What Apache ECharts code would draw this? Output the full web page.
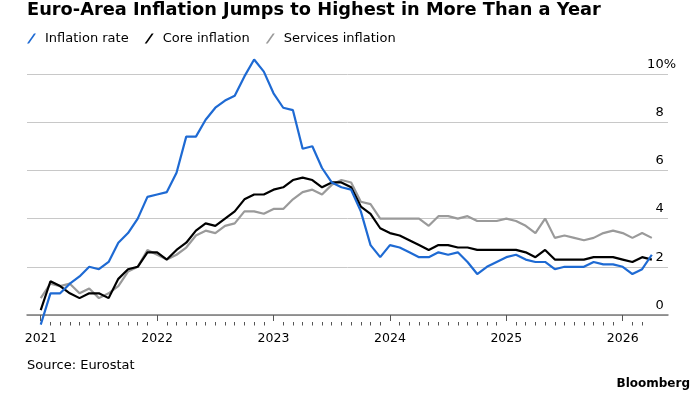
<!DOCTYPE html>
<html><head><meta charset="utf-8">
<script src="https://cdn.jsdelivr.net/npm/echarts@6/dist/echarts.min.js"></script>
<style>html,body{margin:0;padding:0;background:#fff}#c{width:700px;height:394px}</style>
</head><body><div id="c"></div>
<script>
// First observation: December 2020 (plotted at month end)
const firstYear = 2020, firstMonth = 12;
const inflation = [-0.4,
  0.9, 0.9, 1.3, 1.6, 2.0, 1.9, 2.2, 3.0, 3.4, 4.0, 4.9, 5.0,
  5.1, 5.9, 7.4, 7.4, 8.1, 8.6, 8.9, 9.1, 9.9, 10.6, 10.1, 9.2,
  8.6, 8.5, 6.9, 7.0, 6.1, 5.5, 5.3, 5.2, 4.3, 2.9, 2.4, 2.9,
  2.8, 2.6, 2.4, 2.4, 2.6, 2.5, 2.6, 2.2, 1.7, 2.0, 2.2, 2.4,
  2.5, 2.3, 2.2, 2.2, 1.9, 2.0, 2.0, 2.0, 2.2, 2.1, 2.1, 2.0,
  1.7, 1.9, 2.5];
const core = [0.2,
  1.4, 1.2, 0.9, 0.7, 0.9, 0.9, 0.7, 1.5, 1.9, 2.0, 2.6, 2.6,
  2.3, 2.7, 3.0, 3.5, 3.8, 3.7, 4.0, 4.3, 4.8, 5.0, 5.0, 5.2,
  5.3, 5.6, 5.7, 5.6, 5.3, 5.5, 5.5, 5.3, 4.5, 4.2, 3.6, 3.4,
  3.3, 3.1, 2.9, 2.7, 2.9, 2.9, 2.8, 2.8, 2.7, 2.7, 2.7, 2.7,
  2.7, 2.6, 2.4, 2.7, 2.3, 2.3, 2.3, 2.3, 2.4, 2.4, 2.4, 2.3,
  2.2, 2.4, 2.3];
const services = [0.7,
  1.3, 1.2, 1.3, 0.9, 1.1, 0.7, 0.9, 1.2, 1.8, 2.0, 2.7, 2.5,
  2.3, 2.5, 2.8, 3.3, 3.5, 3.4, 3.7, 3.8, 4.3, 4.3, 4.2, 4.4,
  4.4, 4.8, 5.1, 5.2, 5.0, 5.4, 5.6, 5.5, 4.7, 4.6, 4.0, 4.0,
  4.0, 4.0, 4.0, 3.7, 4.1, 4.1, 4.0, 4.1, 3.9, 3.9, 3.9, 4.0,
  3.9, 3.7, 3.4, 4.0, 3.2, 3.3, 3.2, 3.1, 3.2, 3.4, 3.5, 3.4,
  3.2, 3.4, 3.2];
const yearLabels = [2021, 2022, 2023, 2024, 2025, 2026];
const yTicks = [0, 2, 4, 6, 8, 10];
const seriesNames = ['Inflation rate', 'Core inflation', 'Services inflation'];

// x position of an observation: year + month/12 (month end)
const xOf = i => firstYear + (firstMonth + i) / 12;
const toPairs = arr => arr.map((v, i) => [xOf(i), v]);
const minorTicks = [];
for (let i = 1; i < inflation.length - 1; i++) {
  const x = xOf(i);
  if (Math.abs(x - Math.round(x)) > 1e-6) minorTicks.push(x);
}
const X_MIN = 2020.882, X_MAX = 2026.389;
const FONT = 'DejaVu Sans';

const chart = echarts.init(document.getElementById('c'), null, {renderer: 'canvas'});
chart.setOption({
  animation: false,
  backgroundColor: '#fff',
  title: {
    text: 'Euro-Area Inflation Jumps to Highest in More Than a Year',
    left: 27, top: 1, padding: 0,
    textStyle: {fontFamily: FONT, fontWeight: 'bold', fontSize: 17.8, color: '#000'}
  },
  legend: {
    left: 27, top: 32, padding: 0, itemWidth: 9, itemHeight: 10, itemGap: 16,
    icon: 'path://M0,10L7,0L9,0L2,10Z',
    data: seriesNames,
    textStyle: {fontFamily: FONT, fontSize: 13, color: '#000', padding: [0, 0, 0, 4]}
  },
  grid: {left: 27, right: 32, top: 74, bottom: 79, outerBoundsMode: 'none', containLabel: false},
  xAxis: [
    {type: 'value', min: X_MIN, max: X_MAX, position: 'bottom',
     axisLine: {show: true, onZero: false, lineStyle: {color: '#7a7a7a', width: 1.5}},
     axisTick: {show: false}, axisLabel: {show: false}, splitLine: {show: false}},
    {type: 'value', min: X_MIN, max: X_MAX, position: 'bottom', offset: 7,
     axisLine: {show: false},
     axisTick: {show: true, customValues: yearLabels, length: 6, lineStyle: {color: '#555', width: 1}},
     axisLabel: {show: true, customValues: yearLabels, margin: 10, fontFamily: FONT, fontSize: 12.5, color: '#000',
                 formatter: v => String(Math.round(v))},
     splitLine: {show: false}},
    {type: 'value', min: X_MIN, max: X_MAX, position: 'bottom', offset: 7,
     axisLine: {show: false},
     axisTick: {show: true, customValues: minorTicks, length: 3.5, lineStyle: {color: '#555', width: 1}},
     axisLabel: {show: false}, splitLine: {show: false}}
  ],
  yAxis: {
    type: 'value', position: 'right', min: yTicks[0], max: yTicks[yTicks.length - 1], interval: 2,
    axisLine: {show: false}, axisTick: {show: false},
    splitLine: {show: true, lineStyle: {color: '#c8c8c8', width: 1}},
    axisLabel: {
      inside: true, margin: -8, verticalAlign: 'bottom', padding: [0, 0, 3, 0],
      fontFamily: FONT, fontSize: 13, color: '#000',
      formatter: v => v === 10 ? '10%' : v + '{h|%}',
      rich: {h: {color: 'rgba(0,0,0,0)', fontFamily: FONT, fontSize: 13}}
    }
  },
  series: [
    {name: seriesNames[2], type: 'line', xAxisIndex: 0, data: toPairs(services), showSymbol: false,
     lineStyle: {color: '#9a9a9a', width: 2.2}, itemStyle: {color: '#9a9a9a'}, z: 2},
    {name: seriesNames[1], type: 'line', xAxisIndex: 0, data: toPairs(core), showSymbol: false,
     lineStyle: {color: '#000000', width: 2.2}, itemStyle: {color: '#000000'}, z: 3},
    {name: seriesNames[0], type: 'line', xAxisIndex: 0, data: toPairs(inflation), showSymbol: false, clip: false,
     lineStyle: {color: '#1e6ad3', width: 2.2}, itemStyle: {color: '#1e6ad3'}, z: 4}
  ],
  graphic: [
    {type: 'text', left: 27, top: 359, style: {text: 'Source: Eurostat', font: '13px "DejaVu Sans"', fill: '#000'}},
    {type: 'text', right: 10, top: 378, style: {text: 'Bloomberg', font: 'bold 12px "DejaVu Sans"', fill: '#000'}}
  ]
});
</script></body></html>
